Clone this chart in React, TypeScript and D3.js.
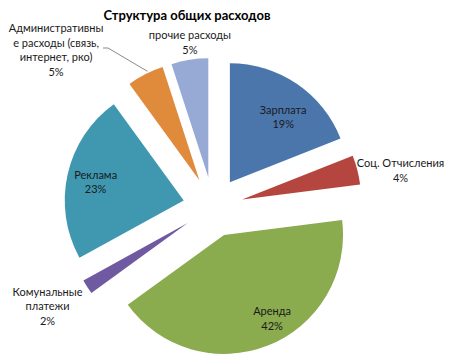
import { useRef, useEffect } from "react"
import * as d3 from "d3"

const categories = [
  "Зарплата",
  "Соц. Отчисления",
  "Аренда",
  "Комунальные платежи",
  "Реклама",
  "Административные расходы (связь, интернет, рко)",
  "прочие расходы",
]
const shares = [19, 4, 42, 2, 23, 5, 5]
const colors = ["#4A76AC", "#B5463F", "#8AAB4E", "#6F59A0", "#3F97B0", "#E08A3C", "#97AAD6"]

// label text as Excel wrapped it
const labelLines = [
  ["Зарплата", "19%"],
  ["Соц. Отчисления", "4%"],
  ["Аренда", "42%"],
  ["Комунальные", "платежи", "2%"],
  ["Реклама", "23%"],
  ["Административны", "е расходы (связь,", "интернет, рко)", "5%"],
  ["прочие расходы", "5%"],
]

// label placement around the pie centre: radius (px) and angle (deg)
const labelPolar = [
  [114, 38], [191, 79], [126, 152], [193, 239], [120, 282], [222, 315], [166, 352],
]

const W = 450
const H = 364

export default function App() {
  const svgRef = useRef(null)

  useEffect(() => {
    const svg = d3.select(svgRef.current)
    svg.selectAll("*").remove()

    const cx = 213
    const cy = 207
    const radius = 119
    const explode = 30
    const font = "Lato, 'Open Sans', sans-serif"

    svg.append("rect").attr("width", W).attr("height", H).attr("fill", "white")

    svg
      .append("text")
      .attr("x", 187)
      .attr("y", 20)
      .attr("text-anchor", "middle")
      .attr("font-family", font)
      .attr("font-weight", "bold")
      .attr("font-size", 13)
      .attr("fill", "#000")
      .text("Структура общих расходов")

    const data = categories.map((c, i) => ({ name: c, value: shares[i], i }))
    const pie = d3.pie().sort(null).value((d) => d.value).startAngle(0).endAngle(2 * Math.PI)
    const arcs = pie(data)
    const arc = d3.arc().innerRadius(0).outerRadius(radius)

    const g = svg.append("g").attr("transform", `translate(${cx},${cy})`)

    g.selectAll("path")
      .data(arcs)
      .enter()
      .append("path")
      .attr("d", arc)
      .attr("fill", (d) => colors[d.data.i])
      .attr("transform", (d) => {
        const mid = (d.startAngle + d.endAngle) / 2
        return `translate(${explode * Math.sin(mid)},${-explode * Math.cos(mid)})`
      })

    // leader line for the administrative slice
    const adm = arcs[5]
    const admMid = (adm.startAngle + adm.endAngle) / 2
    const ex = (explode + radius) * Math.sin(admMid)
    const ey = -(explode + radius) * Math.cos(admMid)
    g.append("path")
      .attr("d", `M${103 - cx},${48 - cy}L${108 - cx},${48 - cy}L${ex + 2},${ey - 3}`)
      .attr("fill", "none")
      .attr("stroke", "#6b6b6b")
      .attr("stroke-width", 0.8)

    const lineH = 14.5
    labelLines.forEach((lines, i) => {
      const [r, a] = labelPolar[i]
      const rad = (a * Math.PI) / 180
      const lx = r * Math.sin(rad)
      const ly = -r * Math.cos(rad)
      const t = g
        .append("text")
        .attr("text-anchor", "middle")
        .attr("font-family", font)
        .attr("font-size", 11)
        .attr("fill", "#1a1a1a")
      lines.forEach((ln, k) => {
        t.append("tspan")
          .attr("x", lx)
          .attr("y", ly + (k - (lines.length - 1) / 2) * lineH + 4)
          .text(ln)
      })
    })
  }, [])

  return (
    <svg
      ref={svgRef}
      width={W}
      height={H}
      style={{ position: "absolute", left: 0, top: 0, display: "block" }}
    />
  )
}
